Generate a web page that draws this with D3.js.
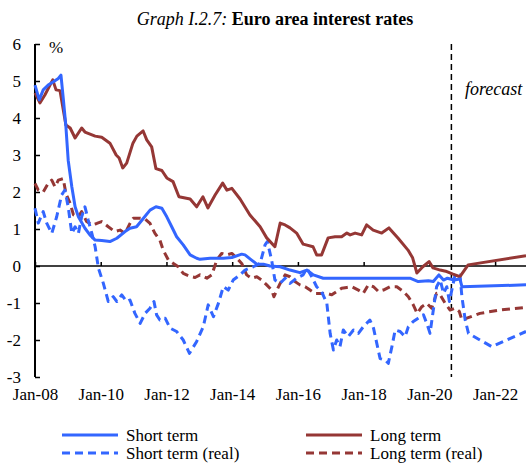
<!DOCTYPE html>
<html>
<head>
<meta charset="utf-8">
<script src="https://cdn.jsdelivr.net/npm/d3@7"></script>
<style>
  body { margin: 0; background: #fff; }
  svg { display: block; font-family: "Liberation Serif", "Times New Roman", serif; }
</style>
</head>
<body>
<div id="chart"></div>
<script>
// data (decimal years, percent)
var shortTerm = [
  [2008.00, 4.89], [2008.13, 4.49], [2008.25, 4.76], [2008.40, 4.89], [2008.56, 4.98],
  [2008.71, 5.07], [2008.79, 5.16], [2008.86, 4.53], [2008.94, 3.77], [2009.01, 2.86],
  [2009.12, 2.14], [2009.22, 1.60], [2009.32, 1.33], [2009.52, 1.02], [2009.67, 0.84],
  [2009.83, 0.70], [2010.03, 0.69], [2010.28, 0.66], [2010.49, 0.75], [2010.74, 0.93],
  [2010.89, 1.02], [2011.09, 1.06], [2011.30, 1.29], [2011.50, 1.51], [2011.68, 1.60],
  [2011.86, 1.56], [2012.01, 1.33], [2012.16, 1.06], [2012.31, 0.79], [2012.51, 0.57],
  [2012.72, 0.30], [2012.92, 0.21], [2013.02, 0.18], [2013.33, 0.21], [2013.73, 0.21],
  [2013.99, 0.23], [2014.29, 0.32], [2014.39, 0.30], [2014.59, 0.16], [2014.75, 0.05],
  [2014.95, 0.05], [2015.15, 0.00], [2015.46, -0.02], [2015.76, -0.11], [2016.06, -0.18],
  [2016.27, -0.11], [2016.47, -0.24], [2016.77, -0.33], [2018.19, -0.33], [2019.41, -0.33],
  [2019.66, -0.42], [2019.97, -0.40], [2020.12, -0.42], [2020.29, -0.24], [2020.43, -0.38],
  [2020.55, -0.33], [2020.75, -0.38], [2020.93, -0.35], [2020.99, -0.56], [2022.94, -0.51]
];

var longTerm = [
  [2008.00, 4.68], [2008.15, 4.41], [2008.30, 4.62], [2008.54, 5.03], [2008.64, 4.76],
  [2008.76, 4.74], [2008.94, 3.81], [2009.07, 3.73], [2009.22, 3.46], [2009.42, 3.73],
  [2009.52, 3.62], [2009.83, 3.51], [2010.03, 3.48], [2010.28, 3.32], [2010.47, 3.00],
  [2010.56, 2.92], [2010.67, 2.65], [2010.79, 2.78], [2010.98, 3.32], [2011.10, 3.51],
  [2011.29, 3.65], [2011.40, 3.41], [2011.55, 3.22], [2011.68, 2.63], [2011.86, 2.58],
  [2012.01, 2.38], [2012.20, 2.28], [2012.38, 1.87], [2012.72, 1.81], [2012.92, 1.60],
  [2013.11, 1.87], [2013.26, 1.57], [2013.48, 1.92], [2013.71, 2.24], [2013.84, 2.05],
  [2013.99, 2.10], [2014.24, 1.81], [2014.54, 1.38], [2014.85, 1.06], [2015.05, 0.76],
  [2015.30, 0.52], [2015.46, 1.16], [2015.61, 1.11], [2015.76, 1.03], [2015.96, 0.89],
  [2016.16, 0.59], [2016.46, 0.52], [2016.57, 0.30], [2016.72, 0.30], [2016.92, 0.76],
  [2017.13, 0.79], [2017.33, 0.79], [2017.49, 0.89], [2017.59, 0.84], [2017.74, 0.89],
  [2017.94, 0.84], [2018.09, 1.11], [2018.29, 0.97], [2018.55, 0.89], [2018.77, 1.03],
  [2019.05, 0.75], [2019.35, 0.43], [2019.49, 0.22], [2019.62, -0.19], [2019.80, -0.02],
  [2019.99, 0.12], [2020.11, -0.05], [2020.33, -0.11], [2020.53, -0.15], [2020.72, -0.22],
  [2020.93, -0.29], [2021.18, 0.03], [2022.94, 0.28]
];

var shortTermReal = [
  [2008.00, 1.56], [2008.10, 1.16], [2008.25, 1.47], [2008.36, 1.15], [2008.51, 0.88],
  [2008.66, 1.33], [2008.81, 1.92], [2008.91, 2.05], [2009.01, 1.60], [2009.12, 0.88],
  [2009.22, 1.06], [2009.32, 0.88], [2009.42, 1.33], [2009.52, 1.60], [2009.62, 1.24],
  [2009.73, 0.88], [2009.83, 0.52], [2009.93, -0.06], [2010.08, -0.47], [2010.23, -0.96],
  [2010.38, -0.83], [2010.49, -0.96], [2010.64, -0.78], [2010.79, -0.96], [2010.89, -0.92],
  [2011.04, -1.28], [2011.20, -1.55], [2011.35, -1.28], [2011.50, -1.14], [2011.62, -0.96],
  [2011.70, -1.32], [2011.80, -1.46], [2011.96, -1.41], [2012.11, -1.68], [2012.31, -1.77],
  [2012.51, -2.00], [2012.70, -2.36], [2012.92, -2.04], [2013.12, -1.64], [2013.27, -1.05],
  [2013.43, -1.37], [2013.58, -1.01], [2013.73, -0.56], [2013.88, -0.65], [2014.03, -0.38],
  [2014.24, -0.24], [2014.39, -0.11], [2014.64, -0.02], [2014.85, 0.07], [2015.00, 0.57],
  [2015.07, 0.66], [2015.20, 0.16], [2015.30, -0.38], [2015.46, -0.47], [2015.61, -0.33],
  [2015.76, -0.47], [2015.96, -0.33], [2016.16, -0.24], [2016.27, -0.06], [2016.42, -0.29],
  [2016.57, -0.56], [2016.72, -0.69], [2016.88, -1.01], [2016.98, -1.82], [2017.08, -2.27],
  [2017.18, -2.00], [2017.28, -2.18], [2017.38, -1.73], [2017.53, -1.91], [2017.69, -1.73],
  [2017.84, -1.82], [2017.99, -1.64], [2018.19, -1.46], [2018.30, -1.68], [2018.40, -2.09],
  [2018.50, -2.50], [2018.65, -2.54], [2018.75, -2.63], [2018.86, -2.18], [2018.96, -1.73],
  [2019.11, -1.77], [2019.26, -1.91], [2019.36, -1.64], [2019.51, -1.50], [2019.66, -1.41],
  [2019.82, -1.32], [2019.94, -1.60], [2020.02, -1.82], [2020.12, -1.19], [2020.22, -0.56],
  [2020.33, -0.38], [2020.43, -0.74], [2020.53, -0.56], [2020.61, -0.96], [2020.78, -0.24],
  [2020.93, -0.24], [2020.99, -0.83], [2021.09, -1.46], [2021.19, -1.82], [2021.54, -2.00],
  [2021.90, -2.18], [2022.35, -2.00], [2022.94, -1.77]
];

var longTermReal = [
  [2008.00, 2.23], [2008.10, 2.05], [2008.25, 2.00], [2008.40, 2.23], [2008.51, 2.32],
  [2008.61, 2.14], [2008.71, 2.32], [2008.86, 2.36], [2008.94, 1.96], [2009.07, 1.69],
  [2009.17, 1.38], [2009.32, 1.33], [2009.42, 1.47], [2009.57, 1.20], [2009.73, 1.11],
  [2009.88, 1.15], [2010.03, 1.20], [2010.23, 1.06], [2010.43, 0.93], [2010.59, 0.97],
  [2010.74, 0.88], [2010.89, 1.15], [2010.99, 1.29], [2011.20, 1.29], [2011.35, 1.27],
  [2011.50, 1.15], [2011.65, 0.88], [2011.80, 0.70], [2011.90, 0.43], [2012.06, 0.16],
  [2012.21, 0.07], [2012.36, -0.02], [2012.51, -0.20], [2012.72, -0.28], [2012.87, -0.31],
  [2013.02, -0.24], [2013.23, -0.33], [2013.38, -0.24], [2013.53, 0.16], [2013.68, 0.34],
  [2013.83, 0.30], [2013.99, 0.34], [2014.14, 0.21], [2014.29, 0.07], [2014.44, -0.24],
  [2014.59, -0.33], [2014.75, -0.29], [2014.90, -0.38], [2015.05, -0.51], [2015.20, -0.65],
  [2015.27, -0.83], [2015.36, -0.65], [2015.46, -0.47], [2015.61, -0.24], [2015.76, -0.29],
  [2015.91, -0.42], [2016.06, -0.51], [2016.22, -0.56], [2016.37, -0.65], [2016.52, -0.74],
  [2016.67, -0.74], [2016.88, -0.74], [2017.03, -0.78], [2017.18, -0.69], [2017.33, -0.60],
  [2017.49, -0.58], [2017.64, -0.56], [2017.84, -0.65], [2017.99, -0.74], [2018.14, -0.51],
  [2018.30, -0.56], [2018.45, -0.69], [2018.60, -0.65], [2018.80, -0.56], [2019.01, -0.56],
  [2019.21, -0.69], [2019.36, -0.83], [2019.51, -1.05], [2019.63, -1.28], [2019.77, -1.10],
  [2019.92, -1.01], [2020.07, -1.14], [2020.22, -0.74], [2020.33, -0.78], [2020.48, -1.01],
  [2020.63, -1.19], [2020.78, -1.14], [2020.91, -1.23], [2020.99, -1.46], [2021.14, -1.41],
  [2021.54, -1.28], [2022.15, -1.19], [2022.94, -1.12]
];

var yearTicks = [2008, 2010, 2012, 2014, 2016, 2018, 2020, 2022];
var valueTicks = [-3, -2, -1, 0, 1, 2, 3, 4, 5, 6];
var forecastStart = 2020.67;

var seriesNames = ["Short term", "Long term", "Short term (real)", "Long term (real)"];

var blue = "#3366ff", red = "#953735";

var W = 526, H = 464;

var svg = d3.select("#chart").append("svg")
    .attr("width", W)
    .attr("height", H);

var x = d3.scaleLinear().domain([2008, 2022.94]).range([35, 526]);
var y = d3.scaleLinear().domain([-3, 6]).range([377, 44]);

// title
var title = svg.append("text")
    .attr("x", 275)
    .attr("y", 25)
    .attr("text-anchor", "middle")
    .style("font-size", "18px");
title.append("tspan").style("font-style", "italic").text("Graph I.2.7: ");
title.append("tspan").style("font-weight", "bold").text("Euro area interest rates");

// y axis, ticks pointing inwards
var yAxis = svg.append("g")
    .attr("transform", "translate(35,0)")
    .call(d3.axisLeft(y).tickValues(valueTicks).tickSize(-5).tickPadding(14)
      .tickFormat(function(d) { return d; }));
yAxis.select(".domain").attr("stroke-width", 2).attr("d", "M0," + y(6) + "V" + y(-3));
yAxis.selectAll(".tick line").attr("stroke-width", 1.5);
yAxis.selectAll("text")
    .style("font-size", "17px")
    .style("font-family", "Liberation Serif, serif")
    .attr("fill", "#000");

// zero line with upward ticks
var xAxis = svg.append("g")
    .attr("transform", "translate(0," + y(0) + ")")
    .call(d3.axisBottom(x).tickValues(yearTicks).tickSize(-4).tickFormat(""));
xAxis.select(".domain").attr("stroke-width", 1.5).attr("d", "M35,0H526");
xAxis.selectAll(".tick line").attr("stroke-width", 1.5);

// tick labels along the bottom
var xLabels = svg.append("g")
    .attr("transform", "translate(0,384)")
    .call(d3.axisBottom(x).tickValues(yearTicks).tickSize(0).tickPadding(4)
      .tickFormat(function(d) { return "Jan-" + String(d).slice(2); }));
xLabels.select(".domain").remove();
xLabels.selectAll("text")
    .style("font-size", "17px")
    .style("font-family", "Liberation Serif, serif")
    .attr("fill", "#000");

svg.append("text")
    .attr("x", 49)
    .attr("y", 53)
    .style("font-size", "17px")
    .text("%");

// forecast marker
svg.append("line")
    .attr("x1", x(forecastStart)).attr("x2", x(forecastStart))
    .attr("y1", y(6)).attr("y2", y(-3))
    .attr("stroke", "#000")
    .attr("stroke-width", 1.5)
    .attr("stroke-dasharray", "6,4");

svg.append("text")
    .attr("x", 465)
    .attr("y", 95)
    .style("font-size", "18px")
    .style("font-style", "italic")
    .text("forecast");

var line = d3.line()
    .x(function(d) { return x(d[0]); })
    .y(function(d) { return y(d[1]); });

var series = [
  { data: longTermReal, color: red, dash: "8,5" },
  { data: shortTermReal, color: blue, dash: "8,5" },
  { data: longTerm, color: red, dash: null },
  { data: shortTerm, color: blue, dash: null }
];

svg.selectAll("path.series")
    .data(series)
  .enter().append("path")
    .attr("class", "series")
    .attr("d", function(d) { return line(d.data); })
    .attr("fill", "none")
    .attr("stroke", function(d) { return d.color; })
    .attr("stroke-width", 3)
    .attr("stroke-linejoin", "round")
    .attr("stroke-dasharray", function(d) { return d.dash; });

// legend
var legendItems = [
  { name: seriesNames[0], color: blue, dash: null, lx: 62, ly: 435 },
  { name: seriesNames[1], color: red, dash: null, lx: 306, ly: 435 },
  { name: seriesNames[2], color: blue, dash: "8,5", lx: 62, ly: 453 },
  { name: seriesNames[3], color: red, dash: "8,5", lx: 306, ly: 453 }
];

var legend = svg.selectAll("g.legend")
    .data(legendItems)
  .enter().append("g")
    .attr("class", "legend")
    .attr("transform", function(d) { return "translate(" + d.lx + "," + d.ly + ")"; });

legend.append("line")
    .attr("x1", 0).attr("x2", 56)
    .attr("stroke", function(d) { return d.color; })
    .attr("stroke-width", 3)
    .attr("stroke-dasharray", function(d) { return d.dash; });

legend.append("text")
    .attr("x", 64)
    .attr("y", 6)
    .style("font-size", "17px")
    .text(function(d) { return d.name; });
</script>
</body>
</html>
